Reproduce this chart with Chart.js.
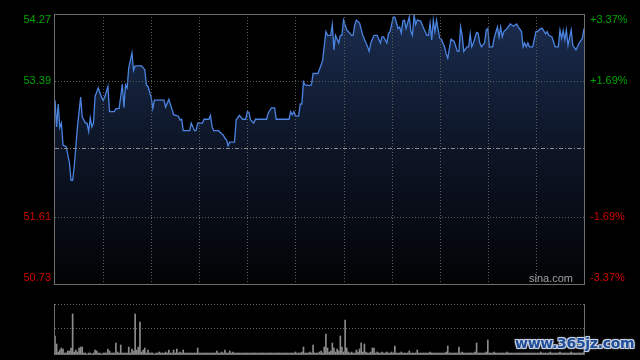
<!DOCTYPE html>
<html>
<head>
<meta charset="utf-8">
<script src="https://cdn.jsdelivr.net/npm/chart.js@4.4.1/dist/chart.umd.min.js"></script>
<style>
html,body{margin:0;padding:0;background:#000;width:640px;height:360px;overflow:hidden;}
#price{position:absolute;left:0;top:0;}
#vol{position:absolute;left:0;top:290px;}
#wm{position:absolute;left:515px;top:335px;font:bold 14px "DejaVu Sans",sans-serif;color:#1f4d98;
  text-shadow:-1px -1px 0 #c8d2e4,1px -1px 0 #c8d2e4,-1px 1px 0 #c8d2e4,1px 1px 0 #c8d2e4,0 0 3px #fff;letter-spacing:-0.3px;}
</style>
</head>
<body>
<canvas id="price" width="640" height="290"></canvas>
<canvas id="vol" width="640" height="70"></canvas>
<div id="wm">www.365jz.com</div>
<script>
// 昨收及刻度
const prevClose = 52.50;
const priceTicks = [54.27, 53.39, 51.61, 50.73];
const pctTicks = ['+3.37%', '+1.69%', '-1.69%', '-3.37%'];
const timeGrid = [30, 60, 90, 120, 150, 180, 210, 240, 270, 300];

// 分时价格 (分钟序号, 价格)
const minutes = [0,1,2,3,4,5,7,9,10,11,12,14,16,17,19,20,21,22,23,24,25,27,29,30,31,33,34,37,38,40,42,43,44,45,46,48,49,50,54,56,57,58,60,61,62,68,69,71,73,74,77,78,
  79,80,84,85,87,88,89,92,93,96,97,98,99,102,104,105,106,107,108,109,112,113,115,117,119,120,121,122,124,125,132,133,135,137,138,146,147,148,149,150,152,153,154,155,156,159,
  160,161,164,166,167,169,170,172,173,174,175,177,178,179,180,182,183,185,186,187,188,190,192,193,195,196,197,199,201,203,204,205,207,208,209,211,212,214,215,216,217,218,219,221,222,223,224,225,226,228,230,232,233,234,235,236,237,238,240,241,243,
  244,245,247,249,251,252,253,254,255,257,258,259,260,261,263,264,265,266,268,269,270,271,273,274,276,277,278,279,280,282,284,286,288,289,291,292,293,294,295,296,298,300,301,303,304,306,307,308,310,312,314,315,316,317,318,319,320,322,323,325,327,329,330];
const prices = [53.14,52.79,53.09,52.78,52.84,52.55,52.53,52.32,52.09,52.09,52.27,52.79,53.18,52.92,52.84,52.84,52.73,52.91,52.79,52.84,53.19,53.30,53.18,53.14,53.18,53.32,52.99,52.99,53.03,53.03,53.35,53.04,53.34,53.30,53.56,53.76,53.53,53.59,53.59,53.54,53.34,53.32,53.18,53.03,53.14,53.14,53.05,53.15,53.02,52.95,52.93,52.88,
  52.89,52.74,52.74,52.84,52.74,52.74,52.84,52.84,52.89,52.89,52.94,52.79,52.74,52.74,52.70,52.68,52.64,52.62,52.54,52.59,52.59,52.88,52.94,52.89,52.89,52.99,52.98,52.88,52.84,52.89,52.89,52.97,53.04,53.04,52.89,52.89,52.99,52.95,52.99,52.93,52.93,53.09,53.09,53.38,53.34,53.33,
  53.34,53.49,53.49,53.60,53.67,54.04,53.99,53.99,54.13,53.80,53.99,53.89,53.99,53.99,54.19,54.06,54.04,53.99,53.99,54.13,54.19,54.15,53.99,53.94,53.84,53.78,53.89,53.99,53.99,53.89,53.97,53.97,53.89,54.01,54.04,54.23,54.23,54.08,54.10,54.02,54.18,54.19,54.08,54.23,54.04,53.99,54.26,54.13,54.19,54.18,54.08,53.99,53.99,54.15,53.93,54.19,54.04,54.19,53.95,53.94,53.84,
  53.75,53.69,53.94,53.91,53.78,53.78,54.10,53.99,53.78,53.84,53.84,54.01,53.84,53.89,54.03,54.02,53.89,53.84,53.89,54.06,54.08,53.84,53.84,53.96,54.10,53.97,54.10,53.97,54.04,54.08,54.14,54.11,54.14,54.10,54.04,53.84,53.89,53.84,53.89,53.84,53.84,54.04,54.04,54.08,54.08,54.01,54.04,53.99,53.97,53.84,53.84,54.06,53.95,54.05,53.93,54.06,53.86,54.06,53.86,53.80,53.89,53.95,54.08];

// 每分钟成交量 (相对量)
const volumes = [
  18,10,2,4,6,5,1,1,3,3,6,40,2,4,2,6,7,7,1,1,0,1,1,0,1,4,3,1,1,0,
  1,1,1,5,3,1,1,1,11,2,1,9,1,1,1,1,7,1,5,3,40,4,7,32,2,4,6,1,4,1,
  1,1,0,1,1,2,1,1,1,2,1,4,1,1,4,1,5,1,2,1,4,1,1,1,1,1,1,1,1,6,
  1,1,1,1,1,1,1,1,1,1,1,3,1,1,2,1,4,1,1,3,1,2,1,1,1,1,1,1,1,1,
  1,1,1,1,1,1,1,1,1,1,1,1,1,1,1,1,1,1,1,1,1,1,1,1,1,1,1,1,1,1,
  2,1,1,1,2,7,1,1,1,2,1,9,1,1,1,2,3,1,7,20,6,2,3,11,6,2,5,3,18,7,
  2,34,6,2,1,2,1,1,4,2,5,11,2,10,2,1,1,2,6,6,1,2,1,1,2,1,1,2,1,1,
  2,1,8,1,1,1,2,1,1,1,1,3,1,1,1,1,4,1,1,1,1,1,1,1,2,1,1,1,1,1,
  1,1,1,1,2,8,1,1,1,1,1,1,7,1,2,1,1,1,1,1,1,1,2,11,1,1,1,1,1,2,
  14,1,1,1,2,1,1,1,1,1,1,1,2,1,1,1,1,1,1,1,1,1,1,1,1,1,1,1,1,1,
  1,1,1,2,1,1,1,1,1,2,1,1,1,1,1,2,1,1,1,1,1,1,2,1,1,1,1,1,1,1,
  2];

function hline(ctx, a, y, x0, x1) { ctx.beginPath(); ctx.moveTo(x0, y); ctx.lineTo(x1, y); ctx.stroke(); }
function vline(ctx, x, y0, y1) { ctx.beginPath(); ctx.moveTo(x, y0); ctx.lineTo(x, y1); ctx.stroke(); }

const priceFrame = {
  id: 'priceFrame',
  afterDatasetsDraw(chart) {
    const {ctx, chartArea: a, scales: {x, y}} = chart;
    ctx.save();
    ctx.lineWidth = 1;
    ctx.strokeStyle = '#5c5c5c';
    ctx.setLineDash([1, 2]);
    timeGrid.forEach(t => vline(ctx, Math.round(x.getPixelForValue(t)) + 0.5, a.top, a.bottom));
    [53.39, 51.61].forEach(v => hline(ctx, a, Math.round(y.getPixelForValue(v)) + 0.5, a.left, a.right));
    ctx.strokeStyle = '#8a8a8a';
    ctx.setLineDash([4, 2, 1, 2]);
    hline(ctx, a, Math.round(y.getPixelForValue(prevClose)) - 0.5, a.left, a.right);
    ctx.setLineDash([]);
    ctx.strokeStyle = '#6e6e6e';
    ctx.strokeRect(a.left - 0.5, a.top + 0.5, a.right - a.left + 1, a.bottom - a.top);

    ctx.font = '11px "Liberation Sans", Arial, sans-serif';
    ctx.textBaseline = 'middle';
    priceTicks.forEach((v, i) => {
      let py = y.getPixelForValue(v);
      py = Math.min(Math.max(py, a.top + 6), a.bottom - 6);
      ctx.fillStyle = v > prevClose ? '#00a400' : '#d00000';
      ctx.textAlign = 'right';
      ctx.fillText(v.toFixed(2), 51, py);
      ctx.textAlign = 'left';
      ctx.fillText(pctTicks[i], 590, py);
    });
    ctx.fillStyle = '#a0a0a0';
    ctx.textAlign = 'right';
    ctx.fillText('sina.com', 573, a.bottom - 5);
    ctx.restore();
  }
};

new Chart(document.getElementById('price'), {
  type: 'line',
  data: {
    datasets: [{
      data: minutes.map((m, i) => ({x: m, y: prices[i]})),
      borderColor: '#4a84e0',
      borderWidth: 1.3,
      pointRadius: 0,
      tension: 0,
      fill: 'start',
      backgroundColor: (c) => {
        const a = c.chart.chartArea;
        if (!a) return 'rgba(20,35,60,1)';
        const g = c.chart.ctx.createLinearGradient(0, a.top, 0, a.bottom);
        g.addColorStop(0, 'rgb(26,44,78)');
        g.addColorStop(0.5, 'rgb(13,21,38)');
        g.addColorStop(1, 'rgb(2,3,5)');
        return g;
      }
    }]
  },
  options: {
    responsive: false, animation: false, devicePixelRatio: 1,
    layout: {padding: {left: 55, right: 56, top: 14, bottom: 6}},
    plugins: {legend: {display: false}, tooltip: {enabled: false}},
    scales: {
      x: {type: 'linear', min: 0, max: 330, display: false},
      y: {min: 50.73, max: 54.27, display: false}
    }
  },
  plugins: [priceFrame]
});

const volFrame = {
  id: 'volFrame',
  beforeDatasetsDraw(chart) {
    const {ctx, chartArea: a, scales: {y}} = chart;
    ctx.save();
    ctx.lineWidth = 1;
    ctx.strokeStyle = '#6a6a6a';
    ctx.setLineDash([1, 2]);
    hline(ctx, a, a.top + 0.5, a.left, a.right);
    hline(ctx, a, Math.round(y.getPixelForValue(26)) + 0.5, a.left, a.right);
    ctx.setLineDash([]);
    ctx.strokeStyle = '#6e6e6e';
    vline(ctx, a.left - 0.5, a.top, a.bottom + 1);
    vline(ctx, a.right + 0.5, a.top, a.bottom + 1);
    hline(ctx, a, a.bottom + 0.5, a.left, a.right);
    ctx.restore();
  }
};

new Chart(document.getElementById('vol'), {
  type: 'bar',
  data: {
    datasets: [{
      data: volumes.map((v, i) => ({x: i, y: v})),
      backgroundColor: '#8c8c8c',
      barThickness: 1
    }]
  },
  options: {
    responsive: false, animation: false, devicePixelRatio: 1,
    layout: {padding: {left: 55, right: 56, top: 14, bottom: 6}},
    plugins: {legend: {display: false}, tooltip: {enabled: false}},
    scales: {
      x: {type: 'linear', min: 0, max: 330, display: false, offset: false},
      y: {min: 0, max: 50, display: false}
    }
  },
  plugins: [volFrame]
});
</script>
</body>
</html>
